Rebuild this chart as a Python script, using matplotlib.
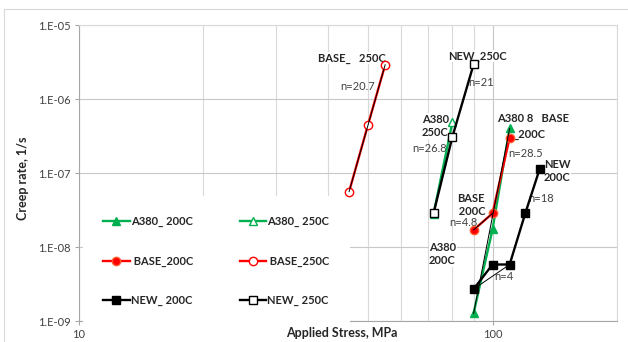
import numpy as np
import matplotlib.pyplot as plt

plt.rcParams['font.family'] = ['Lato', 'DejaVu Sans']

# --- data ---
a380_200_x = [90, 100, 110]
a380_200_y = [1.27e-9, 1.73e-8, 4.0e-7]
a380_250_x = [72, 80]
a380_250_y = [2.8e-8, 4.9e-7]
base_200_x = [90, 100, 110]
base_200_y = [1.7e-8, 2.85e-8, 3.0e-7]
base_250_x = [45, 50, 55]
base_250_y = [5.6e-8, 4.5e-7, 2.9e-6]
new_200_x = [90, 100, 110, 120, 130]
new_200_y = [2.7e-9, 5.8e-9, 5.8e-9, 2.85e-8, 1.13e-7]
new_250_x = [72, 80, 90]
new_250_y = [2.85e-8, 3.1e-7, 2.94e-6]

y_ticks = [1e-9, 1e-8, 1e-7, 1e-6, 1e-5]
y_tick_labels = ['1.E-09', '1.E-08', '1.E-07', '1.E-06', '1.E-05']
x_ticks = [10, 100]
x_tick_labels = ['10', '100']

GREEN = '#00B050'
RED = '#FF0000'
BLACK = '#000000'
W, H = 628, 342

fig = plt.figure(figsize=(W / 100, H / 100), dpi=100)
ax = fig.add_axes([79 / W, 1 - 321 / H, (617 - 79) / W, (321 - 25) / H])
ax.set_xscale('log')
ax.set_yscale('log')
ax.set_xlim(10, 200)
ax.set_ylim(1e-9, 1e-5)

# grid
ax.set_axisbelow(True)
ax.set_xticks(x_ticks)
ax.set_xticklabels(x_tick_labels)
ax.set_xticks([20, 30, 40, 50, 60, 70, 80, 90, 200], minor=True)
ax.set_yticks(y_ticks)
ax.set_yticklabels(y_tick_labels)
ax.set_yticks([], minor=True)
ax.grid(True, which='major', color='#C8C8C8', lw=0.8)
ax.grid(True, which='minor', axis='x', color='#D9D9D9', lw=0.8)
ax.tick_params(which='major', length=3, width=0.8, color='#A6A6A6',
               labelsize=8, labelcolor='#404040', pad=3)
ax.tick_params(which='minor', length=0)
for s in ['top', 'right']:
    ax.spines[s].set_color('#D9D9D9')
    ax.spines[s].set_linewidth(0.8)
for s in ['left', 'bottom']:
    ax.spines[s].set_color('#A6A6A6')
    ax.spines[s].set_linewidth(0.8)

ms = 6
lw = 1.7
l1, = ax.plot(a380_200_x, a380_200_y, color=GREEN, lw=lw, marker='^', ms=ms,
              mfc=GREEN, mec=GREEN, label='A380_ 200C', zorder=3)
l4, = ax.plot(a380_250_x, a380_250_y, color=GREEN, lw=lw, marker='^', ms=ms,
              mfc='white', mec=GREEN, label='A380_ 250C', zorder=3)
l2, = ax.plot(base_200_x, base_200_y, color=RED, lw=lw, marker='o', ms=ms,
              mfc=RED, mec='#FF5A30', label=' BASE_200C', zorder=4)
l5, = ax.plot(base_250_x, base_250_y, color=RED, lw=lw, marker='o', ms=ms,
              mfc='white', mec=RED, label=' BASE_250C', zorder=4)
l3, = ax.plot(new_200_x, new_200_y, color=BLACK, lw=lw, marker='s', ms=ms,
              mfc=BLACK, mec=BLACK, label='NEW_ 200C', zorder=5)
l6, = ax.plot(new_250_x, new_250_y, color=BLACK, lw=lw, marker='s', ms=ms,
              mfc='white', mec=BLACK, label='NEW_ 250C', zorder=5)

# thin black fit segments used for the n values
fits = [(base_250_x, base_250_y, 0, 2),
        (a380_200_x, a380_200_y, 0, 2),
        (base_200_x, base_200_y, 0, 1),
        (new_200_x, new_200_y, 0, 2)]
for xs, ys, i, j in fits:
    ax.plot([xs[i], xs[j]], [ys[i], ys[j]], color=BLACK, lw=0.7, zorder=4.5)


def label(px, py, s, bold=True, ha='left', bg=True):
    kw = dict(transform=fig.transFigure, ha=ha, va='center', fontsize=8,
              zorder=2.5, linespacing=1.3)
    if bold:
        kw.update(fontweight='bold', color='#262626')
    else:
        kw.update(color='#404040')
    if bg:
        kw['bbox'] = dict(facecolor='white', edgecolor='none', pad=0.3)
    ax.text(px / W, 1 - py / H, s, **kw)


label(318, 58, 'BASE_   250C')
label(340, 86, 'n=20.7', bold=False, bg=False)
label(448, 56, 'NEW_250C')
label(468, 83, 'n=21', bold=False, bg=False)
label(422, 126, 'A380\n250C')
label(412, 148, 'n=26.8', bold=False, bg=False)
label(497, 119, 'A380 8   BASE')
label(514, 134, '_200C')
label(508, 154, 'n=28.5', bold=False, bg=False)
label(544, 171, 'NEW\n200C')
label(528, 199, 'n=18', bold=False, bg=False)
label(471, 205, 'BASE\n 200C', ha='center')
label(449, 223, 'n=4.8', bold=False, bg=False)
label(429, 254, 'A380\n200C')
label(494, 277, 'n=4', bold=False, bg=False)

leg = ax.legend(handles=[l1, l2, l3, l4, l5, l6], ncol=2,
                loc='upper left', bbox_to_anchor=(83 / W, 1 - 196 / H),
                bbox_transform=fig.transFigure, frameon=True, fancybox=False,
                framealpha=1, facecolor='white', edgecolor='none',
                prop={'weight': 'bold', 'size': 8}, handlelength=2.4,
                handletextpad=0.1, labelspacing=2.55, columnspacing=4.2,
                borderpad=1.8, borderaxespad=0)
leg.set_zorder(2.8)
for t in leg.get_texts():
    t.set_color('#262626')

fig.text(23 / W, 1 - 178 / H, 'Creep rate, 1/s', rotation=90, ha='center',
         va='center', fontsize=9, fontweight='bold', color='#262626')
fig.text(342 / W, 1 - 333 / H, 'Applied Stress, MPa', ha='center',
         va='center', fontsize=9, fontweight='bold', color='#262626')

# outer chart border
fig.patches.append(plt.Rectangle((4 / W, -0.1), 1.1, 1 - 9 / H + 0.1,
                                 transform=fig.transFigure, fill=False,
                                 edgecolor='#D9D9D9', lw=0.8))

fig.savefig('out.png', dpi=100)
